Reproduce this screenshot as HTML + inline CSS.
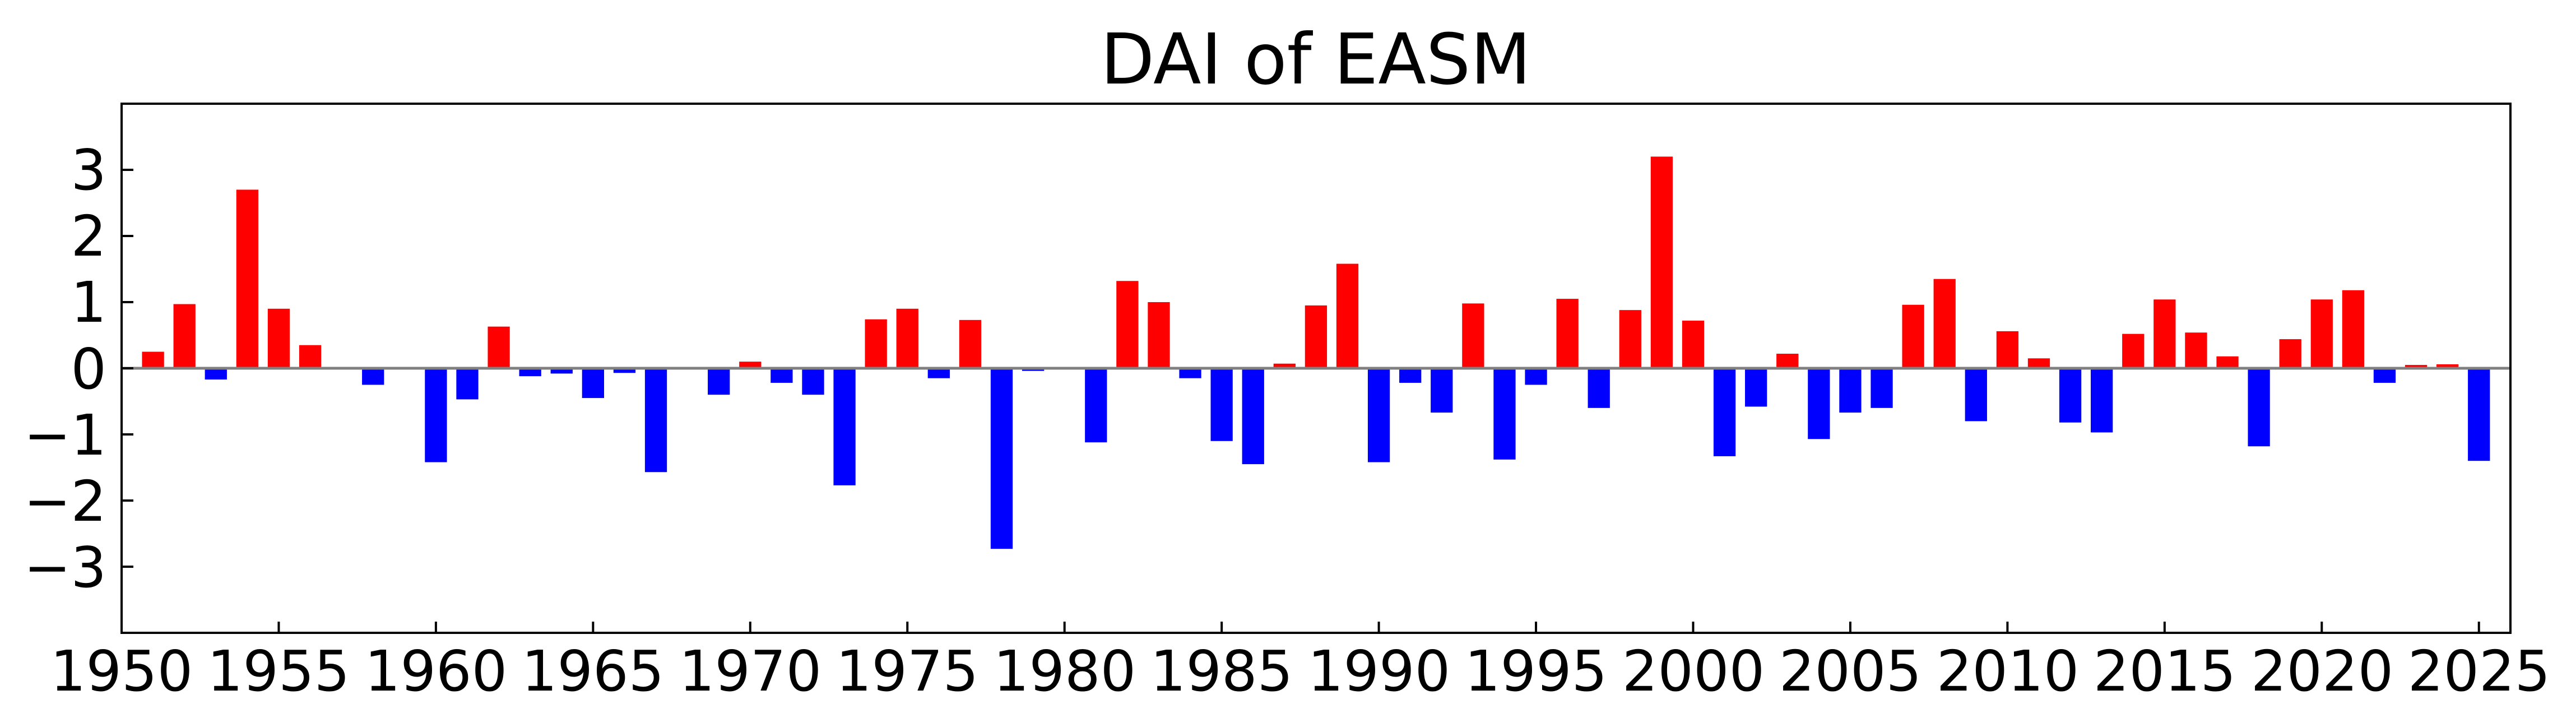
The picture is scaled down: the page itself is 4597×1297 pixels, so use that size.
<!DOCTYPE html>
<html><head><meta charset="utf-8"><style>html,body{margin:0;padding:0;background:#fff}svg{display:block}</style></head>
<body>
<svg id="s" width="4597" height="1297" viewBox="0 0 4597 1297" xmlns="http://www.w3.org/2000/svg" font-family="DejaVu Sans, Liberation Sans, sans-serif">
<rect width="4597" height="1297" fill="#fff"/>
<g id="bars"></g>
<line x1="217" y1="657" x2="4480" y2="657" stroke="#808080" stroke-width="5"/>
<rect x="217" y="185" width="4263" height="944" fill="none" stroke="#000" stroke-width="4"/>
<g stroke="#000" stroke-width="4" id="ticks"></g>
<text x="2348" y="149" font-size="125" text-anchor="middle">DAI of EASM</text>
<g font-size="100" text-anchor="end">
<text x="190" y="338">3</text>
<text x="190" y="456">2</text>
<text x="190" y="574">1</text>
<text x="190" y="693">0</text>
<text x="190" y="811">−1</text>
<text x="190" y="929">−2</text>
<text x="190" y="1047">−3</text>
</g>
<g font-size="100" text-anchor="middle">
<text x="217" y="1232">1950</text>
<text x="497" y="1232">1955</text>
<text x="778" y="1232">1960</text>
<text x="1058" y="1232">1965</text>
<text x="1339" y="1232">1970</text>
<text x="1619" y="1232">1975</text>
<text x="1900" y="1232">1980</text>
<text x="2180" y="1232">1985</text>
<text x="2461" y="1232">1990</text>
<text x="2741" y="1232">1995</text>
<text x="3022" y="1232">2000</text>
<text x="3302" y="1232">2005</text>
<text x="3583" y="1232">2010</text>
<text x="3863" y="1232">2015</text>
<text x="4144" y="1232">2020</text>
<text x="4424" y="1232">2025</text>
</g>
</svg>
<script>
var v=[0.25,0.97,-0.17,2.7,0.9,0.35,0,-0.25,-0.02,-1.42,-0.47,0.63,-0.12,-0.08,-0.45,-0.07,-1.57,0,-0.4,0.1,-0.22,-0.4,-1.77,0.74,0.9,-0.15,0.73,-2.73,-0.04,0.02,-1.12,1.32,1.0,-0.15,-1.1,-1.45,0.07,0.95,1.58,-1.42,-0.22,-0.67,0.98,-1.38,-0.25,1.05,-0.6,0.88,3.2,0.72,-1.33,-0.58,0.22,-1.07,-0.67,-0.6,0.96,1.35,-0.8,0.56,0.15,-0.82,-0.97,0.52,1.04,0.54,0.18,-1.18,0.44,1.04,1.18,-0.22,0.05,0.06,-1.4];
var ns="http://www.w3.org/2000/svg",g=document.getElementById('bars'),t=document.getElementById('ticks');
var X=function(y){return 217+(y-1950)*56.09;};
v.forEach(function(d,i){var yr=1951+i;if(d===0)return;var r=document.createElementNS(ns,'rect');var w=39.3;r.setAttribute('x',X(yr)-w/2);var h=Math.abs(d)*118;r.setAttribute('y',d>0?657-h:657);r.setAttribute('width',w);r.setAttribute('height',h);r.setAttribute('fill',d>0?'#ff0000':'#0000ff');g.appendChild(r);});
for(var k=-3;k<=3;k++){var l=document.createElementNS(ns,'line');var y=657-k*118;l.setAttribute('x1',217);l.setAttribute('x2',238);l.setAttribute('y1',y);l.setAttribute('y2',y);t.appendChild(l);}
for(var yr=1950;yr<=2025;yr+=5){var l=document.createElementNS(ns,'line');var x=X(yr);l.setAttribute('x1',x);l.setAttribute('x2',x);l.setAttribute('y1',1129);l.setAttribute('y2',1109);t.appendChild(l);}
</script>
</body></html>
